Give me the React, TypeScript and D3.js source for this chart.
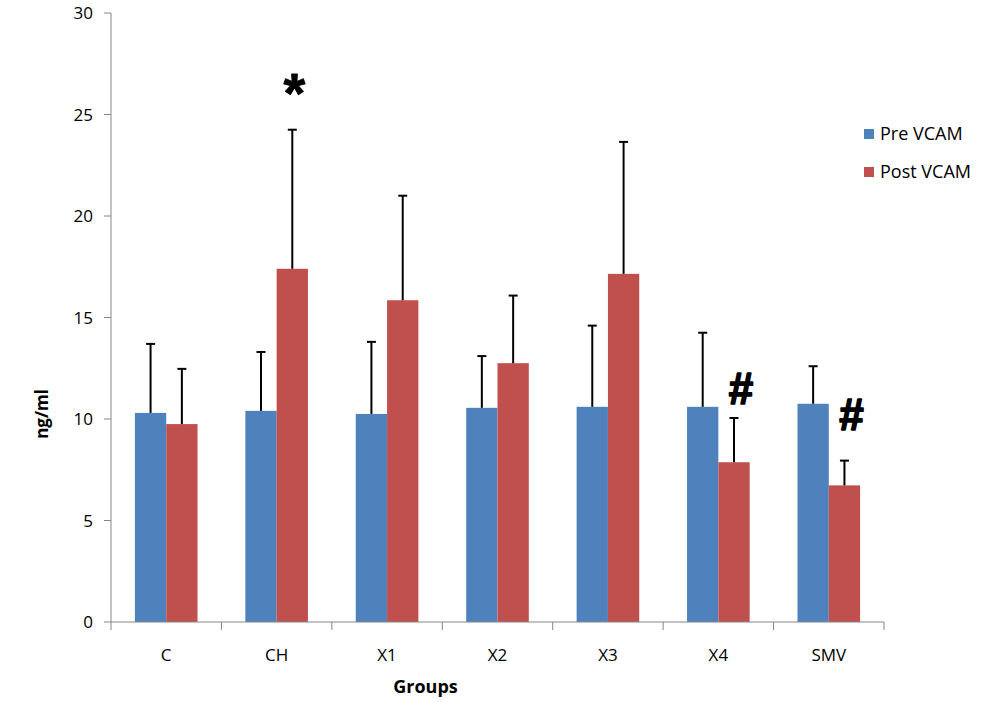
import React from "react";
import * as d3 from "d3";

const categories = ["C", "CH", "X1", "X2", "X3", "X4", "SMV"];
const preValues = [10.3, 10.4, 10.25, 10.55, 10.6, 10.6, 10.75];
const preErrors = [3.4, 2.9, 3.55, 2.55, 4.0, 3.65, 1.85];
const postValues = [9.75, 17.4, 15.85, 12.75, 17.15, 7.87, 6.73];
const postErrors = [2.72, 6.85, 5.15, 3.33, 6.5, 2.18, 1.22];
const markers = ["", "*", "", "", "", "#", "#"];
const markerLevels = [0, 26.4, 0, 0, 0, 11.5, 10.25];
const yTicks = [0, 5, 10, 15, 20, 25, 30];
const seriesNames = ["Pre VCAM", "Post VCAM"];
const colors = ["#4F81BD", "#C0504D"];

export default function App() {
  const W = 1001, H = 702;
  const x0 = 111, x1 = 884, yTop = 13, yBot = 622;
  const x = d3.scaleBand<string>().domain(categories).range([x0, x1]).paddingInner(0).paddingOuter(0);
  const y = d3.scaleLinear().domain([0, 30]).range([yBot, yTop]);
  const groupW = x.bandwidth() * 0.567;
  const sub = d3.scaleBand<number>().domain([0, 1]).range([0, groupW]);
  const font = "'Open Sans', 'Noto Sans', sans-serif";
  const axisColor = "#868686";
  const series = [
    { v: preValues, e: preErrors },
    { v: postValues, e: postErrors },
  ];
  return (
    <svg width={W} height={H} style={{ position: "absolute", left: 0, top: 0, background: "#fff" }}>
      {/* y axis */}
      <line x1={x0} x2={x0} y1={yTop} y2={yBot} stroke={axisColor} strokeWidth={1} />
      {yTicks.map((t) => (
        <g key={t}>
          <line x1={x0 - 7} x2={x0} y1={y(t)} y2={y(t)} stroke={axisColor} />
          <text x={x0 - 18} y={y(t)} dy="0.36em" textAnchor="end" fontFamily={font} fontSize={17} fill="#000">
            {t}
          </text>
        </g>
      ))}
      {/* bars */}
      {categories.map((c, i) => {
        const gx = (x(c) as number) + (x.bandwidth() - groupW) / 2;
        return (
          <g key={c}>
            {series.map((s, k) => {
              const bx = gx + (sub(k) as number);
              const bw = sub.bandwidth();
              const cx = bx + bw / 2;
              return (
                <g key={k}>
                  <rect x={bx} y={y(s.v[i])} width={bw} height={yBot - y(s.v[i])} fill={colors[k]} />
                  <line x1={cx} x2={cx} y1={y(s.v[i])} y2={y(s.v[i] + s.e[i])} stroke="#000" strokeWidth={2} />
                  <line x1={cx - 4.5} x2={cx + 4.5} y1={y(s.v[i] + s.e[i])} y2={y(s.v[i] + s.e[i])} stroke="#000" strokeWidth={2} />
                </g>
              );
            })}
            {markers[i] && (
              <text
                x={gx + (sub(1) as number) + sub.bandwidth() / 2 + (markers[i] === "*" ? 2 : 7)}
                y={y(markerLevels[i])}
                dy={markers[i] === "*" ? "0.46em" : "0.36em"}
                textAnchor="middle"
                fontFamily="'Liberation Sans', Arial, sans-serif"
                fontWeight="bold"
                fontSize={markers[i] === "*" ? 56 : 44}
                fill="#000"
                stroke="#000"
                strokeWidth={markers[i] === "*" ? 0.8 : 1.6}
                strokeLinejoin="round"
              >
                {markers[i]}
              </text>
            )}
          </g>
        );
      })}
      {/* x axis */}
      <line x1={x0} x2={x1} y1={yBot} y2={yBot} stroke={axisColor} strokeWidth={1} />
      {categories.map((c) => (
        <line key={"t" + c} x1={(x(c) as number) + x.bandwidth()} x2={(x(c) as number) + x.bandwidth()} y1={yBot} y2={yBot + 8} stroke={axisColor} />
      ))}
      <line x1={x0} x2={x0} y1={yBot} y2={yBot + 8} stroke={axisColor} />
      {categories.map((c) => (
        <text key={"l" + c} x={(x(c) as number) + x.bandwidth() / 2} y={661} textAnchor="middle" fontFamily={font} fontSize={17} fill="#000">
          {c}
        </text>
      ))}
      {/* axis titles */}
      <text x={425.5} y={693} textAnchor="middle" fontFamily={font} fontWeight="bold" fontSize={18} fill="#000">
        Groups
      </text>
      <text transform={`translate(48,414) rotate(-90)`} textAnchor="middle" fontFamily={font} fontWeight="bold" fontSize={17} fill="#000">
        ng/ml
      </text>
      {/* legend */}
      {seriesNames.map((n, k) => (
        <g key={n} transform={`translate(864,${129 + k * 38})`}>
          <rect x={0} y={0} width={10} height={10} fill={colors[k]} />
          <text x={16} y={11} fontFamily={font} fontSize={18} fill="#000">
            {n}
          </text>
        </g>
      ))}
    </svg>
  );
}
